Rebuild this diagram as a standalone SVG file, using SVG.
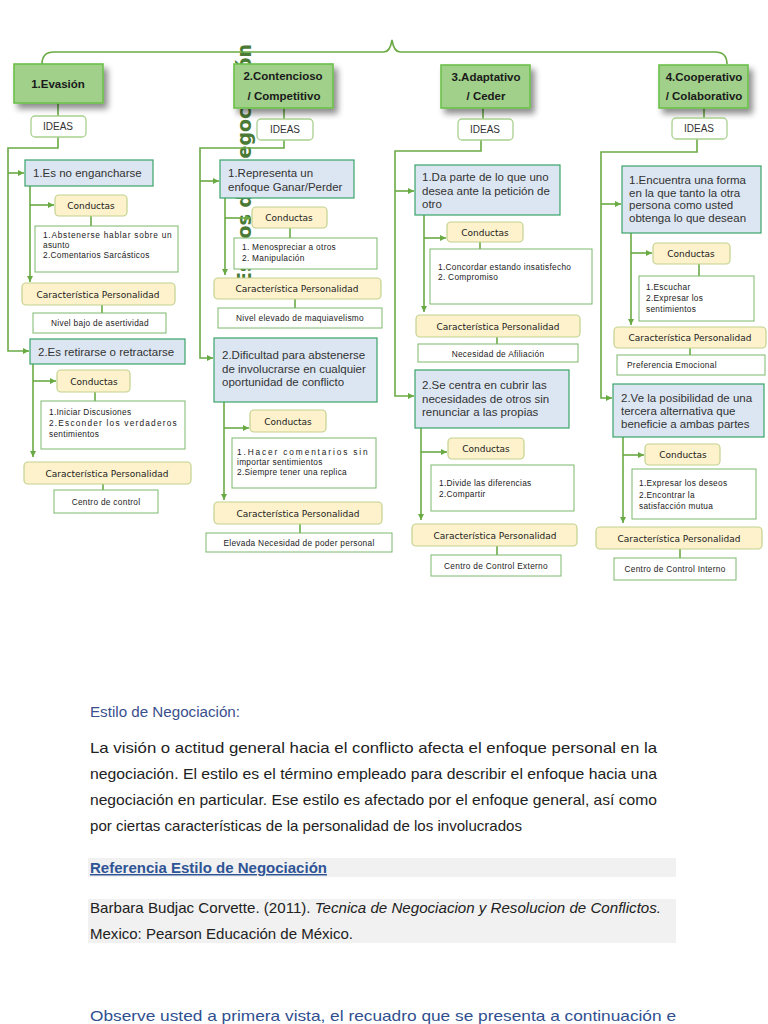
<svg xmlns="http://www.w3.org/2000/svg" width="768" height="1024" viewBox="0 0 768 1024">
<defs>
<marker id="ah" viewBox="0 0 6 6" refX="6" refY="3" markerWidth="6" markerHeight="6" markerUnits="userSpaceOnUse" orient="auto"><path d="M0,0 L6,3 L0,6 z" fill="#6aaa45"/></marker>
<filter id="sh" x="-20%" y="-30%" width="150%" height="170%">
<feGaussianBlur in="SourceAlpha" stdDeviation="3" result="b"/>
<feOffset dx="4" dy="5" result="o"/>
<feComponentTransfer><feFuncA type="linear" slope="0.45"/></feComponentTransfer>
<feMerge><feMergeNode/><feMergeNode in="SourceGraphic"/></feMerge>
</filter>
<style>
.hdr{fill:#a0d08a;stroke:#6cc04a;stroke-width:1.6}
.ht{font-family:"Liberation Sans",Arial,sans-serif;font-size:11.5px;font-weight:bold;fill:#1a1a1a;text-anchor:middle}
.ideas{fill:#fff;stroke:#a9d18e;stroke-width:1.3}
.it{font-family:"Liberation Sans",Arial,sans-serif;font-size:10px;fill:#333;text-anchor:middle}
.blue{fill:#dce6f2;stroke:#3aa36a;stroke-width:1.2}
.bt{font-family:"Liberation Sans",Arial,sans-serif;font-size:11.5px;fill:#333}
.cream{fill:#fdf2cc;stroke:#c2d28e;stroke-width:1.2}
.ct{font-family:"DejaVu Sans",Verdana,sans-serif;font-size:9px;fill:#222;text-anchor:middle}
.det{fill:#fff;stroke:#7cb86a;stroke-width:1}
.dt{font-family:"Liberation Sans",Arial,sans-serif;font-size:8.3px;fill:#222;letter-spacing:0.3px}
.nt{font-family:"Liberation Sans",Arial,sans-serif;font-size:8.3px;fill:#222;text-anchor:middle;letter-spacing:0.3px}
.con{fill:none;stroke:#6aaa45;stroke-width:1.6}
.arr{fill:none;stroke:#6aaa45;stroke-width:1.6;marker-end:url(#ah)}
.p{font-family:"Liberation Sans",Arial,sans-serif;font-size:14.5px;fill:#222}
</style>
</defs>
<rect width="768" height="1024" fill="#fff"/>

<!-- background rotated title -->
<text transform="rotate(-90 251 44)" x="251" y="44" text-anchor="end" font-family="DejaVu Sans, sans-serif" font-weight="bold" font-size="19" fill="#4a7a35">Estilos de Negociación</text>

<!-- connectors -->
<g id="connectors">
<path class="con" d="M42,64 Q42,52 54,52 H384 Q390,52 392,40 Q394,52 400,52 H715 Q727,52 727,64"/>
<!-- col1 -->
<path class="con" d="M58,103 V116"/>
<path class="arr" d="M58,137 V148 H8 V351 H29"/>
<path class="arr" d="M8,173 H24"/>
<path class="arr" d="M30,186 V282"/>
<path class="arr" d="M30,205 H54"/>
<path class="con" d="M91,216 V226"/>
<path class="con" d="M102,305 V313"/>
<path class="arr" d="M33,364 V457"/>
<path class="arr" d="M33,381 H56"/>
<path class="con" d="M95,392 V401"/>
<path class="con" d="M103,484 V490"/>
<!-- col2 -->
<path class="con" d="M284,108 V119"/>
<path class="arr" d="M284,140 V148 H200 V358 H213"/>
<path class="arr" d="M200,181 H219"/>
<path class="arr" d="M225,198 V275"/>
<path class="arr" d="M225,218 H251"/>
<path class="con" d="M290,228 V238"/>
<path class="con" d="M295,299 V308"/>
<path class="arr" d="M224,402 V500"/>
<path class="arr" d="M224,428 H249"/>
<path class="con" d="M300,524 V533"/>
<!-- col3 -->
<path class="con" d="M483,108 V119"/>
<path class="arr" d="M481,140 V151 H395 V396 H414"/>
<path class="arr" d="M395,191 H414"/>
<path class="arr" d="M424,215 V312"/>
<path class="arr" d="M424,238 H446"/>
<path class="con" d="M480,242 V249"/>
<path class="con" d="M497,337 V344"/>
<path class="arr" d="M421,428 V520"/>
<path class="arr" d="M421,452 H447"/>
<path class="con" d="M497,546 V555"/>
<!-- col4 -->
<path class="con" d="M704,108 V118"/>
<path class="arr" d="M697,139 V152 H601 V398 H612"/>
<path class="arr" d="M601,204 H621"/>
<path class="arr" d="M631,233 V325"/>
<path class="arr" d="M631,253 H652"/>
<path class="con" d="M699,264 V276"/>
<path class="con" d="M690,348 V355"/>
<path class="arr" d="M623,437 V523"/>
<path class="arr" d="M623,455 H644"/>
<path class="con" d="M680,549 V558"/>
</g>

<!-- Column 1 -->
<g id="h1"><rect class="hdr" x="14" y="64" width="89" height="39" filter="url(#sh)"/><text class="ht" x="58" y="88">1.Evasión</text></g>
<g id="i1"><rect class="ideas" x="31" y="116" width="55" height="21" rx="4"/><text class="it" x="58" y="130">IDEAS</text></g>
<g id="b11"><rect class="blue" x="25" y="160" width="128" height="26"/><text class="bt" x="33" y="177">1.Es no engancharse</text></g>
<g id="c11"><rect class="cream" x="55" y="195" width="72" height="21" rx="4"/><text class="ct" x="91" y="209">Conductas</text></g>
<g id="d11"><rect class="det" x="35" y="226" width="143" height="46"/><text class="dt" x="43" y="238" textLength="129" lengthAdjust="spacing">1.Abstenerse hablar sobre un</text><text class="dt" x="43" y="248">asunto</text><text class="dt" x="43" y="258">2.Comentarios Sarcásticos</text></g>
<g id="p11"><rect class="cream" x="22" y="283" width="153" height="22" rx="4"/><text class="ct" x="98" y="298">Característica Personalidad</text></g>
<g id="n11"><rect class="det" x="33" y="313" width="133" height="20"/><text class="nt" x="100" y="326">Nivel bajo de asertividad</text></g>
<g id="b12"><rect class="blue" x="30" y="339" width="155" height="25"/><text class="bt" x="38" y="356">2.Es retirarse o retractarse</text></g>
<g id="c12"><rect class="cream" x="57" y="370" width="73" height="22" rx="4"/><text class="ct" x="94" y="385">Conductas</text></g>
<g id="d12"><rect class="det" x="41" y="401" width="144" height="48"/><text class="dt" x="49" y="415">1.Iniciar Discusiones</text><text class="dt" x="49" y="426" textLength="128" lengthAdjust="spacing">2.Esconder los verdaderos</text><text class="dt" x="49" y="437">sentimientos</text></g>
<g id="p12"><rect class="cream" x="24" y="462" width="167" height="22" rx="4"/><text class="ct" x="107" y="477">Característica Personalidad</text></g>
<g id="n12"><rect class="det" x="54" y="490" width="104" height="23"/><text class="nt" x="106" y="505">Centro de control</text></g>

<!-- Column 2 -->
<g id="h2"><rect class="hdr" x="234" y="64" width="99" height="44" filter="url(#sh)"/><text class="ht" x="283" y="80">2.Contencioso</text><text class="ht" x="284" y="100">/ Competitivo</text></g>
<g id="i2"><rect class="ideas" x="257" y="119" width="56" height="21" rx="4"/><text class="it" x="285" y="133">IDEAS</text></g>
<g id="b21"><rect class="blue" x="220" y="160" width="134" height="38"/><text class="bt" x="228" y="177">1.Representa un</text><text class="bt" x="228" y="191">enfoque Ganar/Perder</text></g>
<g id="c21"><rect class="cream" x="252" y="207" width="75" height="21" rx="4"/><text class="ct" x="289" y="221">Conductas</text></g>
<g id="d21"><rect class="det" x="234" y="238" width="143" height="31"/><text class="dt" x="242" y="250">1. Menospreciar a otros</text><text class="dt" x="242" y="261">2. Manipulación</text></g>
<g id="p21"><rect class="cream" x="214" y="278" width="167" height="21" rx="4"/><text class="ct" x="297" y="292">Característica Personalidad</text></g>
<g id="n21"><rect class="det" x="218" y="308" width="164" height="20"/><text class="nt" x="300" y="321">Nivel elevado de maquiavelismo</text></g>
<g id="b22"><rect class="blue" x="214" y="338" width="163" height="64"/><text class="bt" x="222" y="359">2.Dificultad para abstenerse</text><text class="bt" x="222" y="373">de involucrarse en cualquier</text><text class="bt" x="222" y="386">oportunidad de conflicto</text></g>
<g id="c22"><rect class="cream" x="250" y="410" width="76" height="22" rx="4"/><text class="ct" x="288" y="425">Conductas</text></g>
<g id="d22"><rect class="det" x="232" y="438" width="144" height="50"/><text class="dt" x="237" y="455" textLength="131" lengthAdjust="spacing">1.Hacer comentarios sin</text><text class="dt" x="237" y="465">importar sentimientos</text><text class="dt" x="237" y="475">2.Siempre tener una replica</text></g>
<g id="p22"><rect class="cream" x="214" y="502" width="168" height="22" rx="4"/><text class="ct" x="298" y="517">Característica Personalidad</text></g>
<g id="n22"><rect class="det" x="206" y="533" width="186" height="19"/><text class="nt" x="299" y="546">Elevada Necesidad de poder personal</text></g>

<!-- Column 3 -->
<g id="h3"><rect class="hdr" x="441" y="65" width="89" height="43" filter="url(#sh)"/><text class="ht" x="486" y="81">3.Adaptativo</text><text class="ht" x="486" y="100">/ Ceder</text></g>
<g id="i3"><rect class="ideas" x="458" y="119" width="55" height="21" rx="4"/><text class="it" x="485" y="133">IDEAS</text></g>
<g id="b31"><rect class="blue" x="415" y="165" width="145" height="50"/><text class="bt" x="422" y="181">1.Da parte de lo que uno</text><text class="bt" x="422" y="195">desea ante la petición de</text><text class="bt" x="422" y="208">otro</text></g>
<g id="c31"><rect class="cream" x="447" y="222" width="76" height="20" rx="4"/><text class="ct" x="485" y="236">Conductas</text></g>
<g id="d31"><rect class="det" x="430" y="249" width="162" height="55"/><text class="dt" x="438" y="270">1.Concordar estando insatisfecho</text><text class="dt" x="438" y="280">2. Compromiso</text></g>
<g id="p31"><rect class="cream" x="416" y="315" width="164" height="22" rx="4"/><text class="ct" x="498" y="330">Característica Personalidad</text></g>
<g id="n31"><rect class="det" x="418" y="344" width="160" height="18"/><text class="nt" x="498" y="357">Necesidad de Afiliación</text></g>
<g id="b32"><rect class="blue" x="415" y="370" width="154" height="58"/><text class="bt" x="422" y="389">2.Se centra en cubrir las</text><text class="bt" x="422" y="403">necesidades de otros sin</text><text class="bt" x="422" y="416">renunciar a las propias</text></g>
<g id="c32"><rect class="cream" x="448" y="438" width="76" height="21" rx="4"/><text class="ct" x="486" y="452">Conductas</text></g>
<g id="d32"><rect class="det" x="431" y="465" width="143" height="46"/><text class="dt" x="439" y="486">1.Divide las diferencias</text><text class="dt" x="439" y="497">2.Compartir</text></g>
<g id="p32"><rect class="cream" x="412" y="524" width="165" height="22" rx="4"/><text class="ct" x="495" y="539">Característica Personalidad</text></g>
<g id="n32"><rect class="det" x="431" y="555" width="130" height="21"/><text class="nt" x="496" y="569">Centro de Control Externo</text></g>

<!-- Column 4 -->
<g id="h4"><rect class="hdr" x="659" y="65" width="89" height="43" filter="url(#sh)"/><text class="ht" x="704" y="81">4.Cooperativo</text><text class="ht" x="704" y="100">/ Colaborativo</text></g>
<g id="i4"><rect class="ideas" x="672" y="118" width="55" height="21" rx="4"/><text class="it" x="699" y="132">IDEAS</text></g>
<g id="b41"><rect class="blue" x="622" y="166" width="139" height="67"/><text class="bt" x="629" y="184">1.Encuentra una forma</text><text class="bt" x="629" y="197">en la que tanto la otra</text><text class="bt" x="629" y="209">persona como usted</text><text class="bt" x="629" y="222">obtenga lo que desean</text></g>
<g id="c41"><rect class="cream" x="653" y="243" width="77" height="21" rx="4"/><text class="ct" x="691" y="257">Conductas</text></g>
<g id="d41"><rect class="det" x="639" y="276" width="115" height="45"/><text class="dt" x="646" y="290">1.Escuchar</text><text class="dt" x="646" y="301">2.Expresar los</text><text class="dt" x="646" y="312">sentimientos</text></g>
<g id="p41"><rect class="cream" x="614" y="327" width="152" height="21" rx="4"/><text class="ct" x="690" y="341">Característica Personalidad</text></g>
<g id="n41"><rect class="det" x="617" y="355" width="148" height="20"/><text class="dt" x="627" y="368">Preferencia Emocional</text></g>
<g id="b42"><rect class="blue" x="613" y="384" width="151" height="53"/><text class="bt" x="621" y="402">2.Ve la posibilidad de una</text><text class="bt" x="621" y="415">tercera alternativa que</text><text class="bt" x="621" y="428">beneficie a ambas partes</text></g>
<g id="c42"><rect class="cream" x="645" y="444" width="75" height="21" rx="4"/><text class="ct" x="683" y="458">Conductas</text></g>
<g id="d42"><rect class="det" x="632" y="469" width="124" height="50"/><text class="dt" x="639" y="486">1.Expresar los deseos</text><text class="dt" x="639" y="498">2.Encontrar la</text><text class="dt" x="639" y="509">satisfacción mutua</text></g>
<g id="p42"><rect class="cream" x="596" y="527" width="166" height="22" rx="4"/><text class="ct" x="679" y="542">Característica Personalidad</text></g>
<g id="n42"><rect class="det" x="614" y="558" width="122" height="22"/><text class="nt" x="675" y="572">Centro de Control Interno</text></g>

<!-- Text section -->
<g id="text">
<text x="90" y="717" font-family="Liberation Sans, Arial, sans-serif" font-size="14" fill="#3a4f8c" textLength="150" lengthAdjust="spacingAndGlyphs">Estilo de Negociación:</text>
<text class="p" x="90" y="753" textLength="567" lengthAdjust="spacingAndGlyphs">La visión o actitud general hacia el conflicto afecta el enfoque personal en la</text>
<text class="p" x="90" y="779" textLength="567" lengthAdjust="spacingAndGlyphs">negociación. El estilo es el término empleado para describir el enfoque hacia una</text>
<text class="p" x="90" y="805" textLength="567" lengthAdjust="spacingAndGlyphs">negociación en particular. Ese estilo es afectado por el enfoque general, así como</text>
<text class="p" x="90" y="831" textLength="432" lengthAdjust="spacingAndGlyphs">por ciertas características de la personalidad de los involucrados</text>
<rect x="88" y="858" width="588" height="19" fill="#f1f1f1"/>
<text x="90" y="873" font-family="Liberation Sans, Arial, sans-serif" font-size="14.5" font-weight="bold" fill="#2f5496" text-decoration="underline" textLength="237" lengthAdjust="spacingAndGlyphs">Referencia Estilo de Negociación</text>
<rect x="88" y="899" width="588" height="44" fill="#f1f1f1"/>
<text class="p" x="90" y="913" textLength="571" lengthAdjust="spacingAndGlyphs">Barbara Budjac Corvette. (2011). <tspan font-style="italic">Tecnica de Negociacion y Resolucion de Conflictos.</tspan></text>
<text class="p" x="90" y="939" textLength="263" lengthAdjust="spacingAndGlyphs">Mexico: Pearson Educación de México.</text>
<text x="90" y="1021" font-family="Liberation Sans, Arial, sans-serif" font-size="14.5" fill="#2f4f8f" textLength="586" lengthAdjust="spacingAndGlyphs">Observe usted a primera vista, el recuadro que se presenta a continuación e</text>
</g>
</svg>
